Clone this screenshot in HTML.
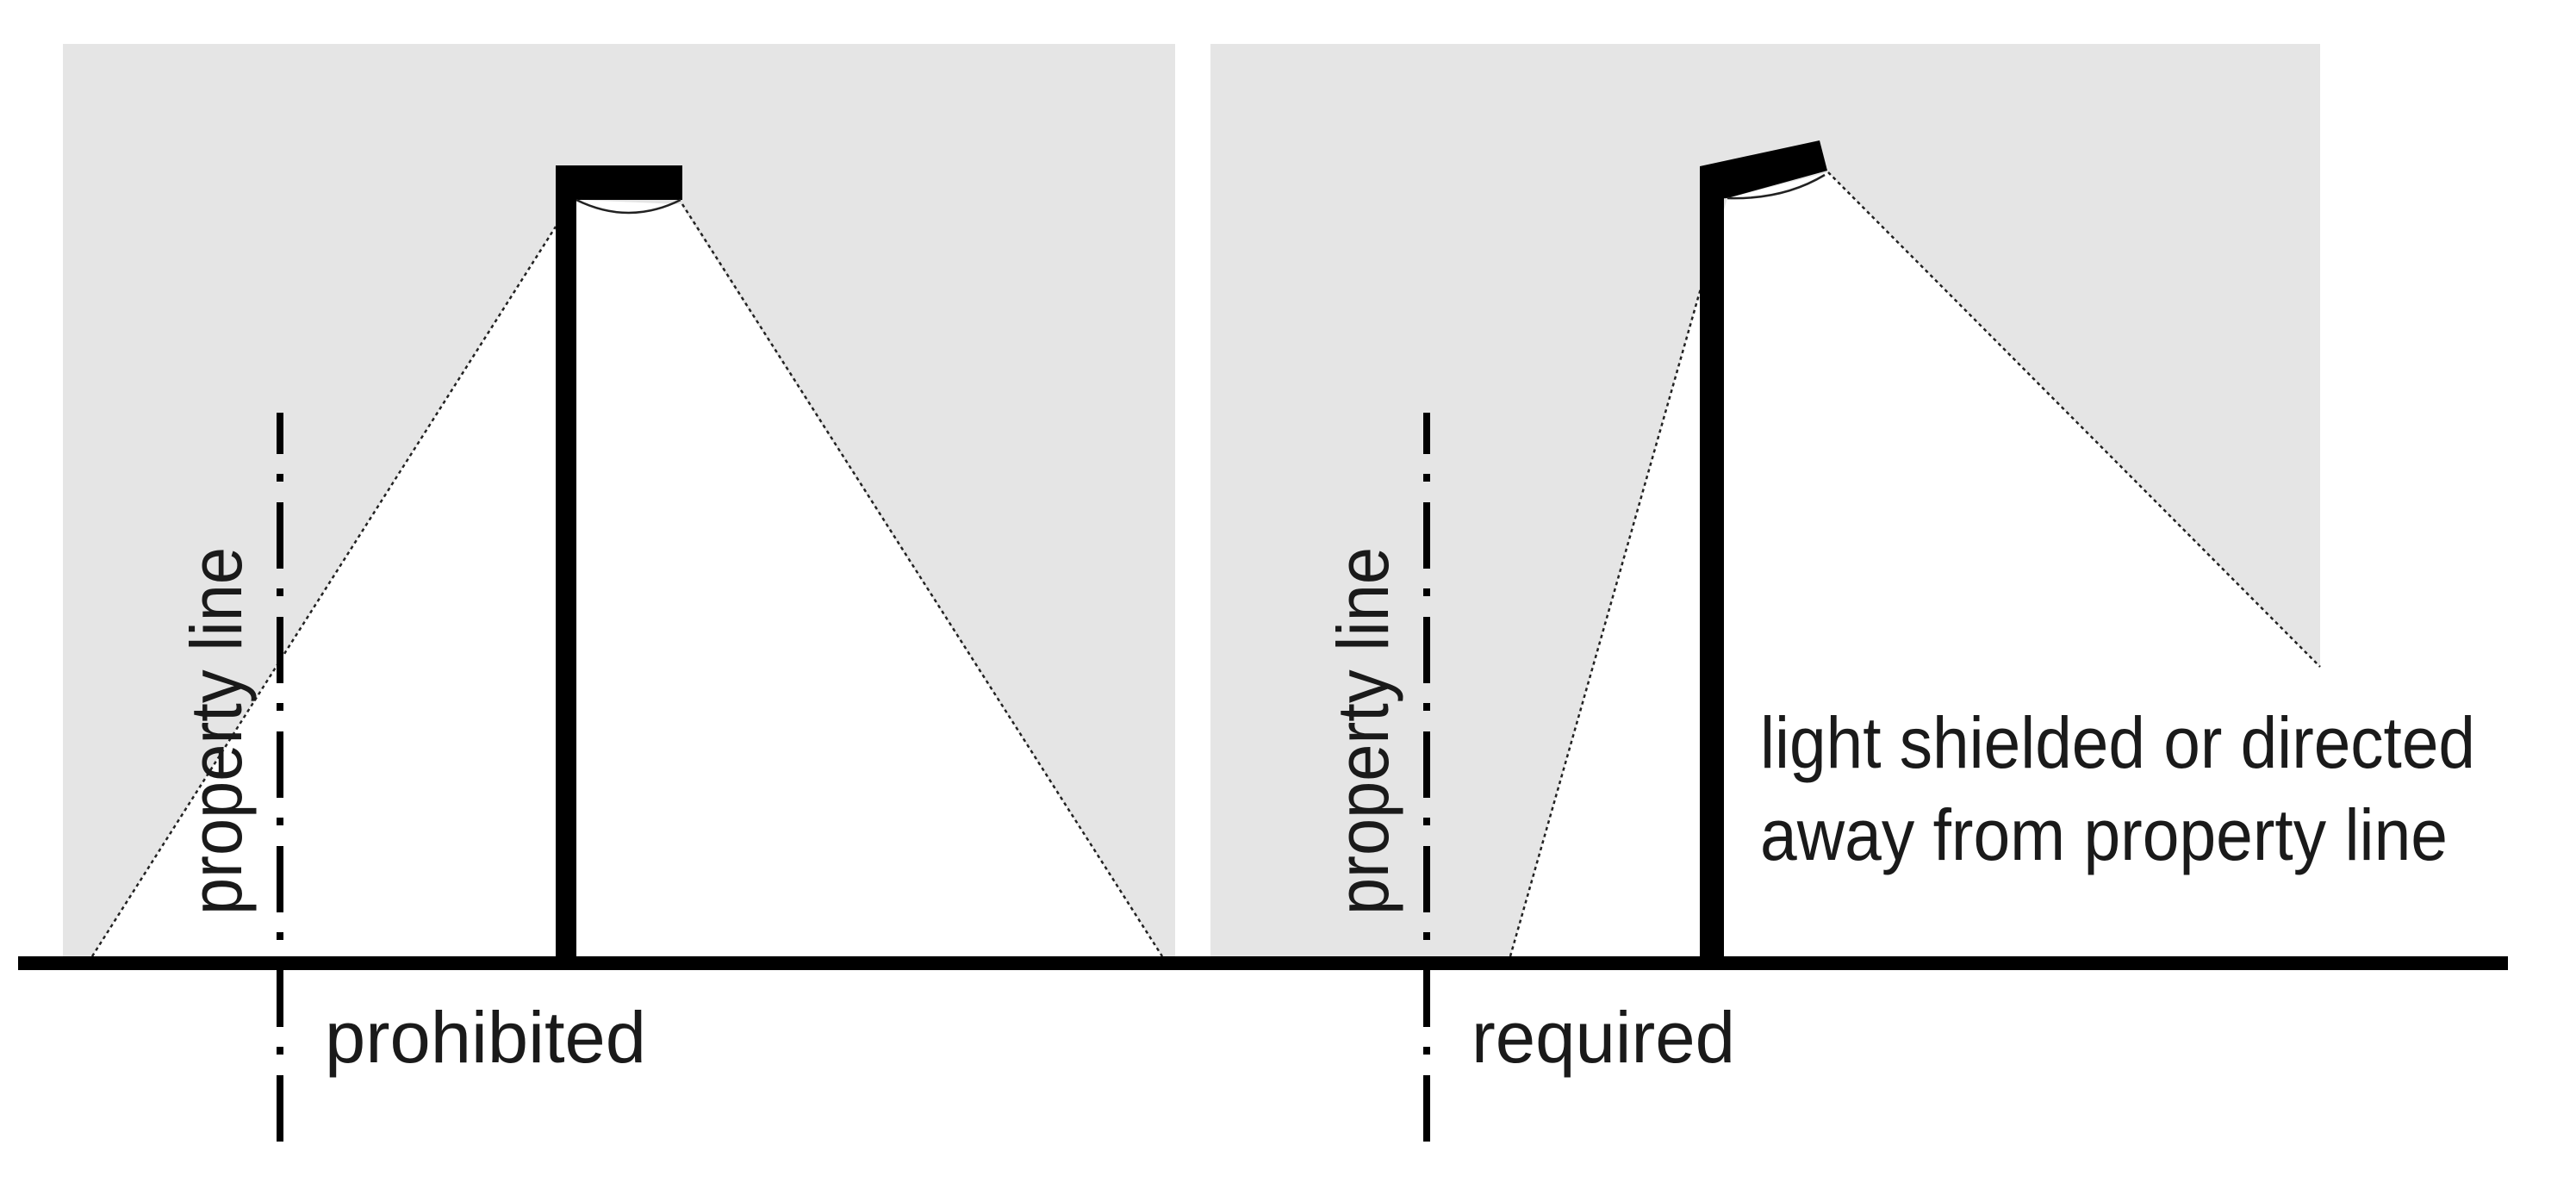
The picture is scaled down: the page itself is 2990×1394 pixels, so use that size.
<!DOCTYPE html>
<html><head><meta charset="utf-8"><style>
html,body{margin:0;padding:0;background:#fff;}
svg{display:block;}
text{font-family:"Liberation Sans",sans-serif;fill:#1a1a1a;}
</style></head><body>
<svg width="2990" height="1394" viewBox="0 0 2990 1394" xmlns="http://www.w3.org/2000/svg">
<rect x="0" y="0" width="2990" height="1394" fill="#fff"/>
<!-- gray panels -->
<rect x="73" y="51" width="1291" height="1059" fill="#e5e5e5"/>
<rect x="1405" y="51" width="1288" height="1059" fill="#e5e5e5"/>
<!-- light cones -->
<polygon points="107,1110 643,266 669,232 790,237 1349,1110" fill="#fff"/>
<polygon points="1753,1110 1976,328 2005,230 2122,200 2693,774 2693,1110" fill="#fff"/>
<!-- cone edges -->
<g stroke="#222" stroke-width="2.5" stroke-dasharray="4 4" fill="none">
<line x1="107" y1="1110" x2="645" y2="263"/>
<line x1="792" y1="237" x2="1349" y2="1110"/>
<line x1="1753" y1="1110" x2="1976" y2="328"/>
<line x1="2122" y1="200" x2="2693" y2="774"/>
</g>
<!-- property lines -->
<g stroke="#000" stroke-width="8" stroke-dasharray="77 23 9 24" stroke-dashoffset="29" fill="none">
<line x1="325" y1="479" x2="325" y2="1326"/>
<line x1="1656" y1="479" x2="1656" y2="1326"/>
</g>
<!-- left lamp -->
<rect x="645" y="192" width="24" height="925" fill="#000"/>
<rect x="645" y="192" width="147" height="40" fill="#000"/>
<path d="M669,232 Q730,262 790,232" stroke="#222" stroke-width="2.5" fill="none"/>
<!-- right lamp -->
<rect x="1973" y="193" width="28" height="924" fill="#000"/>
<polygon points="1973,193 2112,163 2121,198 2005,230 1973,232" fill="#000"/>
<path d="M2005,230 Q2070,232 2118,203" stroke="#222" stroke-width="2.5" fill="none"/>
<!-- ground -->
<rect x="21" y="1110" width="2890" height="16" fill="#000"/>
<!-- texts -->
<text x="377" y="1233" font-size="84" textLength="373" lengthAdjust="spacingAndGlyphs">prohibited</text>
<text x="1708" y="1233" font-size="84" textLength="306" lengthAdjust="spacingAndGlyphs">required</text>
<text transform="translate(280,1062) rotate(-90)" font-size="84" textLength="427" lengthAdjust="spacingAndGlyphs">property line</text>
<text transform="translate(1611,1062) rotate(-90)" font-size="84" textLength="427" lengthAdjust="spacingAndGlyphs">property line</text>
<text x="2043" y="891" font-size="84" textLength="830" lengthAdjust="spacingAndGlyphs">light shielded or directed</text>
<text x="2043" y="998" font-size="84" textLength="798" lengthAdjust="spacingAndGlyphs">away from property line</text>
</svg>
</body></html>
